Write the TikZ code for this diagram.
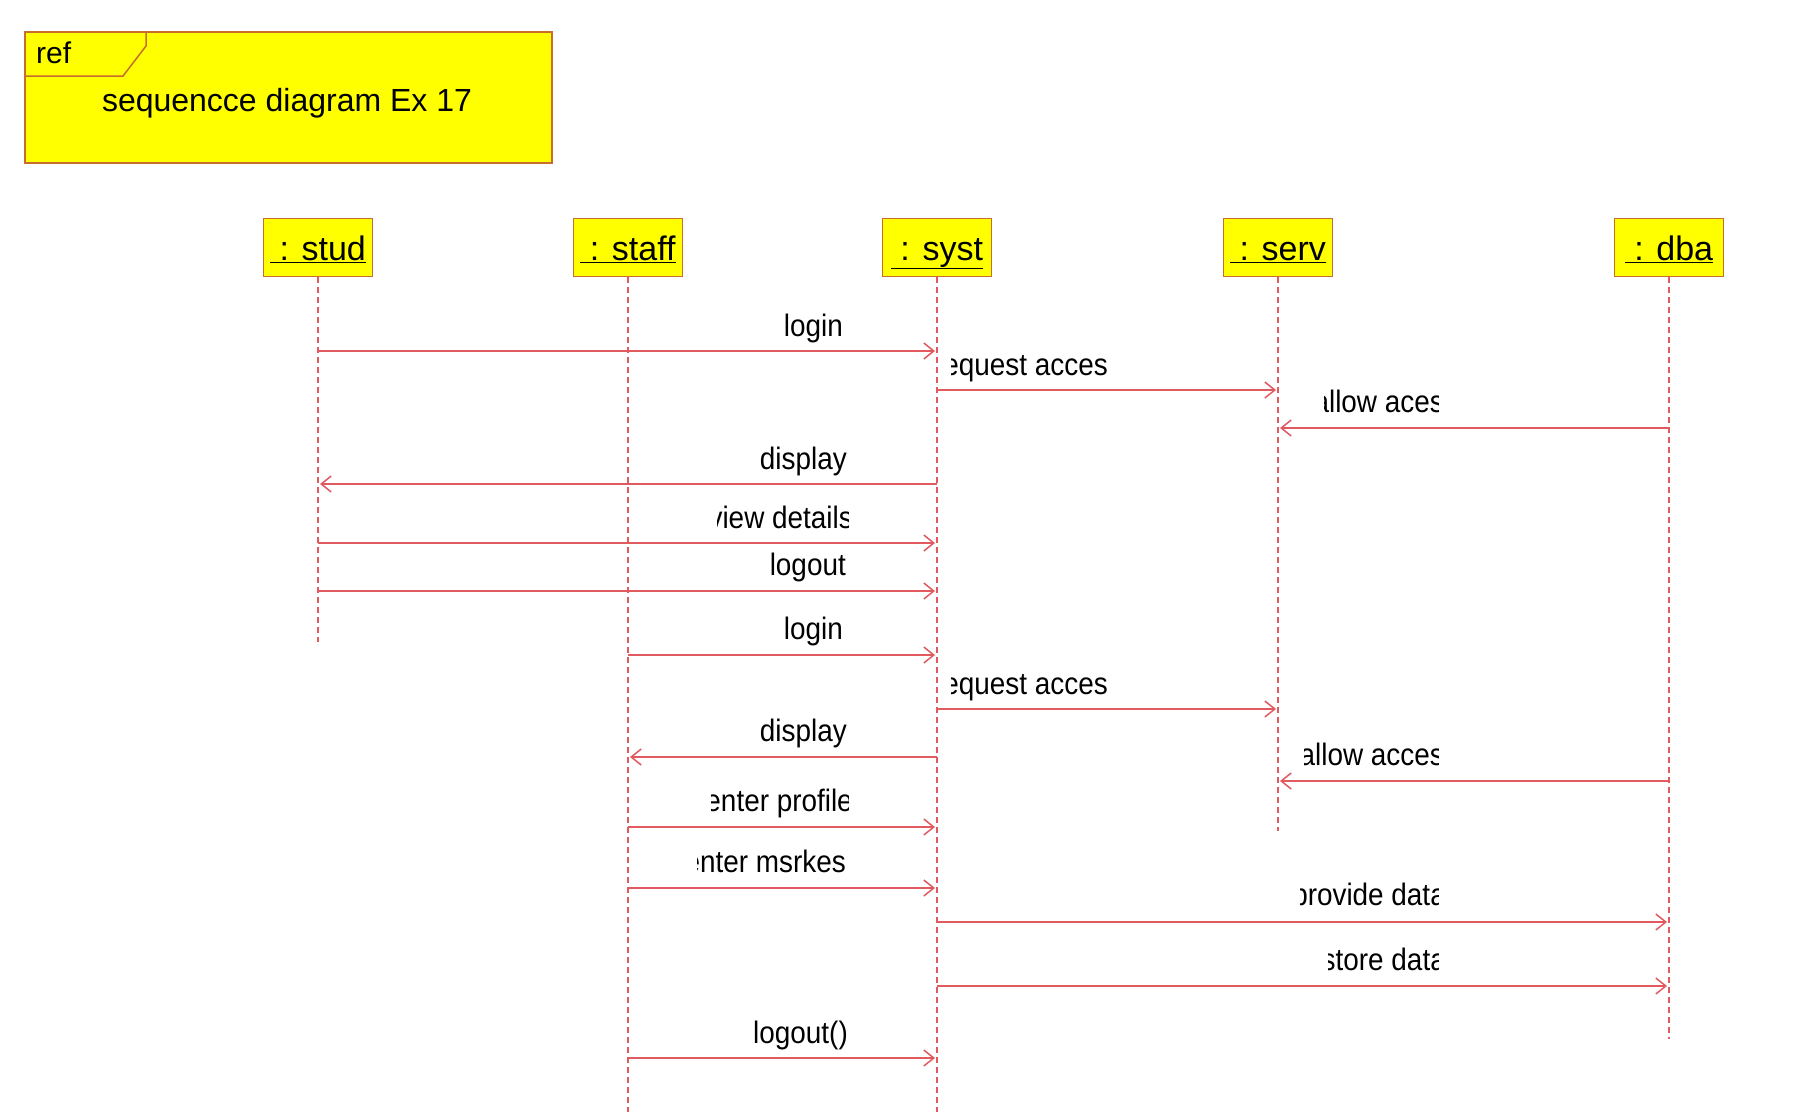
\documentclass[tikz,border=0pt]{standalone}
\usepackage{fontspec}
\setmainfont{Liberation Sans}
\newfontfamily\msgfont[FakeStretch=0.9]{Liberation Sans}
\usetikzlibrary{arrows.meta}
\definecolor{boxfill}{RGB}{255,255,0}
\definecolor{boxline}{RGB}{200,110,45}
\definecolor{msgline}{RGB}{224,90,95}
\newcommand\clipmsg[7]{%
  \begin{scope}
    \clip (#2,#5-34) rectangle (#3,#5+12);
    \node[lbl] (#1) at (#4,#5) {#6#7};
  \end{scope}}
\begin{document}
\begin{tikzpicture}[x=1pt,y=-1pt,
  head/.style={draw=boxline, fill=boxfill, line width=1.5pt, minimum width=109pt, minimum height=58pt, inner sep=0pt, text height=33pt, text depth=8pt, font=\fontsize{34}{40}\selectfont},
  life/.style={draw=msgline, line width=1.2pt, dash pattern=on 6pt off 4pt},
  msg/.style={draw=msgline, line width=1.5pt, shorten >=2pt, -{Straight Barb[length=10pt,width=16pt,line width=1.5pt]}},
  lbl/.style={anchor=base east, inner sep=0pt, font=\msgfont\fontsize{31}{36}\selectfont},
  refbox/.style={draw=boxline, fill=boxfill, line width=1.5pt}
]
\fill[white] (0,0) rectangle (1804,1112);
\useasboundingbox (0,0) rectangle (1804,1112);

% ref frame
\draw[refbox] (25,32) rectangle (552,163);
\draw[boxline, line width=1.5pt] (25,76) -- (123,76) -- (146,46) -- (146,32);
\node[anchor=base west, inner sep=0pt, font=\fontsize{30}{36}\selectfont] (reftag) at (36,63) {ref};
\node[anchor=base, inner sep=0pt, font=\fontsize{32}{38}\selectfont] (title) at (287,111) {sequencce diagram Ex 17};

% lifeline heads
\node[head] (stud)  at (318,247.5)  {\underline{\ : stud}};
\node[head] (staff) at (628,247.5)  {\underline{\ : staff}};
\node[head] (syst)  at (937,247.5)  {\underline{\ : syst}};
\node[head] (serv)  at (1278,247.5) {\underline{\ : serv}};
\node[head] (dba)   at (1669,247.5) {\underline{\ : dba}};

% lifeline ends
\coordinate (studE)  at (318,642);
\coordinate (staffE) at (628,1112);
\coordinate (systE)  at (937,1112);
\coordinate (servE)  at (1278,831);
\coordinate (dbaE)   at (1669,1039);
\draw[life] (stud)  -- (studE);
\draw[life] (staff) -- (staffE);
\draw[life] (syst)  -- (systE);
\draw[life] (serv)  -- (servE);
\draw[life] (dba)   -- (dbaE);

% messages
\draw[msg] (stud |- 0,351)  -- (syst |- 0,351);
\draw[msg] (syst |- 0,390)  -- (serv |- 0,390);
\draw[msg] (dba |- 0,428)   -- (serv |- 0,428);
\draw[msg] (syst |- 0,484)  -- (stud |- 0,484);
\draw[msg] (stud |- 0,543)  -- (syst |- 0,543);
\draw[msg] (stud |- 0,591)  -- (syst |- 0,591);
\draw[msg] (staff |- 0,655) -- (syst |- 0,655);
\draw[msg] (syst |- 0,709)  -- (serv |- 0,709);
\draw[msg] (syst |- 0,757)  -- (staff |- 0,757);
\draw[msg] (dba |- 0,781)   -- (serv |- 0,781);
\draw[msg] (staff |- 0,827) -- (syst |- 0,827);
\draw[msg] (staff |- 0,888) -- (syst |- 0,888);
\draw[msg] (syst |- 0,922)  -- (dba |- 0,922);
\draw[msg] (syst |- 0,986)  -- (dba |- 0,986);
\draw[msg] (staff |- 0,1058) -- (syst |- 0,1058);

% labels
\node[lbl] (m1) at (843,336) {login};
\clipmsg{m2}{951}{1200}{1108}{375}{request }{acces}
\clipmsg{m3}{1324}{1438}{1444}{412}{allow }{aces}
\node[lbl] (m4) at (847,469) {display};
\clipmsg{m5}{717}{848}{853}{528}{view }{details}
\node[lbl] (m6) at (846,575) {logout};
\node[lbl] (m7) at (843,639) {login};
\clipmsg{m8}{951}{1200}{1108}{694}{request }{acces}
\node[lbl] (m9) at (847,741) {display};
\clipmsg{m10}{1304}{1438}{1444}{765}{allow }{acces}
\clipmsg{m11}{711}{848}{853}{811}{enter }{profile}
\clipmsg{m12}{697}{848}{846}{872}{enter }{msrkes}
\clipmsg{m13}{1300}{1438}{1446}{905}{provide }{data}
\clipmsg{m14}{1328}{1438}{1446}{970}{store }{data}
\node[lbl] (m15) at (848,1043) {logout()};
\end{tikzpicture}
\end{document}
